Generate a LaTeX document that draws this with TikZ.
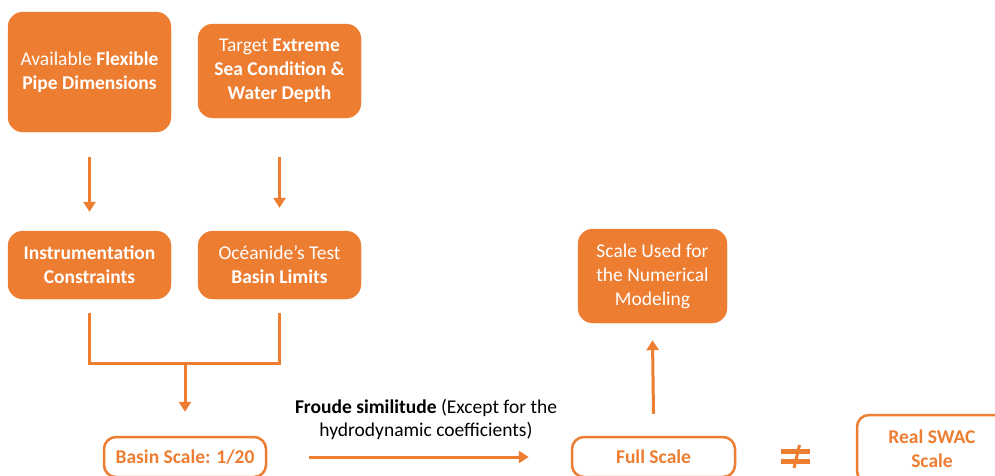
\documentclass[tikz,border=0pt]{standalone}
\usepackage{fontspec}
\setmainfont{Carlito}
\usetikzlibrary{arrows.meta}
\definecolor{org}{HTML}{ED7D31}
\tikzset{
  fbox/.style={fill=org, draw=org, rounded corners=15pt, text=white, align=center,
    font=\fontsize{19.5}{24}\selectfont, inner sep=2pt},
  obox/.style={draw=org, line width=2.5pt, fill=white, rounded corners=12pt, text=org, align=center,
    font=\fontsize{19.5}{24}\selectfont\bfseries, inner sep=2pt},
  conn/.style={draw=org, line width=3pt},
  arr/.style={conn, -{Triangle[length=10pt,width=12pt]}},
}
\begin{document}
\begin{tikzpicture}[x=1pt,y=-1pt]
\useasboundingbox (0,0) rectangle (995,475);
\clip (0,0) rectangle (995,475);
\node[fbox, minimum width=163pt, minimum height=120pt] (b1) at (89.5,72) {Available \textbf{Flexible}\\\textbf{Pipe Dimensions}};
\node[fbox, minimum width=163pt, minimum height=94pt] (b2) at (279.5,71) {Target \textbf{Extreme}\\\textbf{Sea Condition \&}\\\textbf{Water Depth}};
\node[fbox, minimum width=163pt, minimum height=68pt] (b3) at (89.5,265) {\textbf{Instrumentation}\\\textbf{Constraints}};
\node[fbox, minimum width=163pt, minimum height=68pt] (b4) at (279.5,265) {Océanide’s Test\\\textbf{Basin Limits}};
\node[obox, minimum width=162pt, minimum height=40pt] (b5) at (185,457) {Basin Scale: 1/20};
\node[obox, minimum width=163pt, minimum height=40pt] (b6) at (653.5,457) {Full Scale};
\node[fbox, minimum width=149pt, minimum height=94pt] (b7) at (652.5,276) {Scale Used for\\the Numerical\\Modeling};
\node[obox, minimum width=150pt, minimum height=68pt] (b8) at (932,449) {Real SWAC\\Scale};
\draw[arr] ([yshift=-25pt]b1.south) -- ([yshift=19pt]b3.north);
\draw[arr] ([yshift=-39pt]b2.south) -- ([yshift=23pt]b4.north);
\draw[conn] ([yshift=-14pt]b3.south) |- (185,363) -| ([yshift=-14pt]b4.south);
\coordinate (j) at (185,363);
\draw[arr] (j) -- ([yshift=24pt]b5.north);
\draw[arr] ([xshift=42pt]b5.east) -- node[above=13pt, xshift=7pt, text=black, align=center, font=\fontsize{19.5}{23}\selectfont] (fl) {\textbf{Froude similitude} (Except for the\\hydrodynamic coefficients)} ([xshift=-42pt]b6.west);
\draw[arr] ([yshift=22pt]b6.north) -- ([yshift=-17pt]b7.south);
\begin{scope}[org, line width=4.5pt]
\draw (781,451.5) -- (810,451.5);
\draw (781,461.5) -- (810,461.5);
\draw[line width=3pt] (799.5,445) -- (794,468);
\end{scope}
\end{tikzpicture}
\end{document}
